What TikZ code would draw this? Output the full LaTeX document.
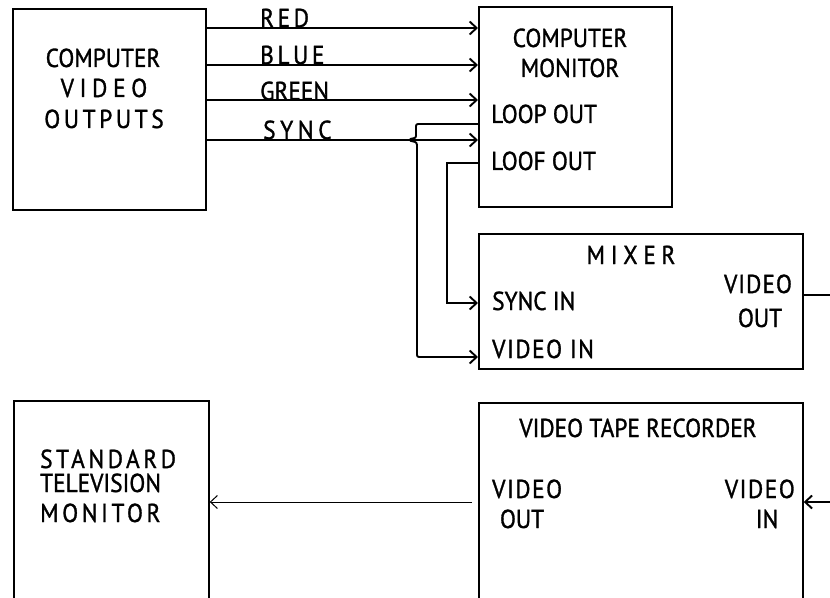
\documentclass[tikz,border=0pt]{standalone}
\usepackage{fontspec}
\setmainfont[FakeStretch=0.9,FakeBold=1.2]{PT Sans}
\usetikzlibrary{arrows.meta}
\newcommand{\spc}[2]{{\addfontfeature{LetterSpace=#1}#2}}
\tikzset{
  box/.style={draw,line width=1.7bp,inner sep=0pt,anchor=north west},
  txt/.style={inner sep=0pt,anchor=base,font=\fontsize{26}{30}\selectfont},
  wire/.style={line width=1.9bp},
  sig/.style={wire,-{Straight Barb[length=7bp,width=13bp]}}
}
\begin{document}
\begin{tikzpicture}[x=1bp,y=-1bp]
\clip (0,0) rectangle (830,598);
\node[box,minimum width=193bp,minimum height=201bp] (cvo) at (12,8) {};
\node[box,minimum width=193bp,minimum height=200bp] (mon) at (478,6) {};
\node[box,minimum width=324bp,minimum height=135bp] (mix) at (478,233) {};
\node[box,minimum width=324bp,minimum height=230bp] (vtr) at (478,402) {};
\node[box,minimum width=195bp,minimum height=230bp] (tv) at (13,400) {};

\node[txt] (cvo1) at (103,67) {COMPUTER};
\node[txt] (cvo2) at (104,97) {\spc{22}{VIDEO}};
\node[txt] (cvo3) at (104,128) {\spc{14}{OUTPUTS}};
\node[txt] (mon1) at (570,47) {COMPUTER};
\node[txt] (mon2) at (570,77) {MONITOR};
\node[txt,anchor=base west] (loop1) at (491,123) {LOOP OUT};
\node[txt,anchor=base west] (loop2) at (491,170) {LOOF OUT};
\node[txt] (mixt) at (631,264) {\spc{22}{MIXER}};
\node[txt,anchor=base west] (syncin) at (492,310) {SYNC IN};
\node[txt,anchor=base west] (vidin) at (492,358) {\spc{6}{VIDEO IN}};
\node[txt] (vidout1) at (758,293) {\spc{4}{VIDEO}};
\node[txt] (vidout2) at (760,327) {OUT};
\node[txt] (vtrt) at (638,437) {VIDEO TAPE RECORDER};
\node[txt,anchor=base west] (vtro1) at (492,498) {\spc{6}{VIDEO}};
\node[txt] (vtro2) at (522,528) {OUT};
\node[txt,anchor=base east] (vtri1) at (795,498) {\spc{6}{VIDEO}};
\node[txt] (vtri2) at (767,528) {IN};
\node[txt,anchor=base west] (tv1) at (40,468) {\spc{14}{STANDARD}};
\node[txt,anchor=base west] (tv2) at (40,492) {TELEVISION};
\node[txt,anchor=base west] (tv3) at (40,522) {\spc{14}{MONITOR}};
\node[txt,anchor=base west] (red) at (260,27) {\spc{14}{RED}};
\node[txt,anchor=base west] (blue) at (260,64) {\spc{14}{BLUE}};
\node[txt,anchor=base west] (green) at (260,100) {GREEN};
\node[txt,anchor=base west] (sync) at (263,139) {\spc{18}{SYNC}};

\coordinate (hop) at (416,124);
\coordinate (turn) at (447,163);
\coordinate (mixout) at (830,295);
\coordinate (vtrin) at (830,502);
\coordinate (vtrout) at (472,502);

\draw[sig] (cvo.east |- 0,28) -- (mon.west |- 0,28);
\draw[sig] (cvo.east |- 0,65) -- (mon.west |- 0,65);
\draw[sig] (cvo.east |- 0,100) -- (mon.west |- 0,100);
\draw[sig] (cvo.east |- 0,140) -- (mon.west |- 0,140);
\draw[sig,rounded corners=2bp] (mon.west |- hop) -- (hop) -- (416,134)
  .. controls (416,139) and (412,138) .. (409,140)
  .. controls (413,142) and (417,141) .. (417,147) -- (417,357) -- (mix.west |- 0,357);
\draw[sig] (mon.west |- turn) -- (turn) -- (447,303) -- (mix.west |- 0,303);
\draw[wire] (mix.east |- mixout) -- (mixout);
\draw[sig] (vtrin) -- (vtr.east |- vtrin);
\draw[sig,line width=1bp] (vtrout) -- (tv.east |- vtrout);
\end{tikzpicture}
\end{document}
